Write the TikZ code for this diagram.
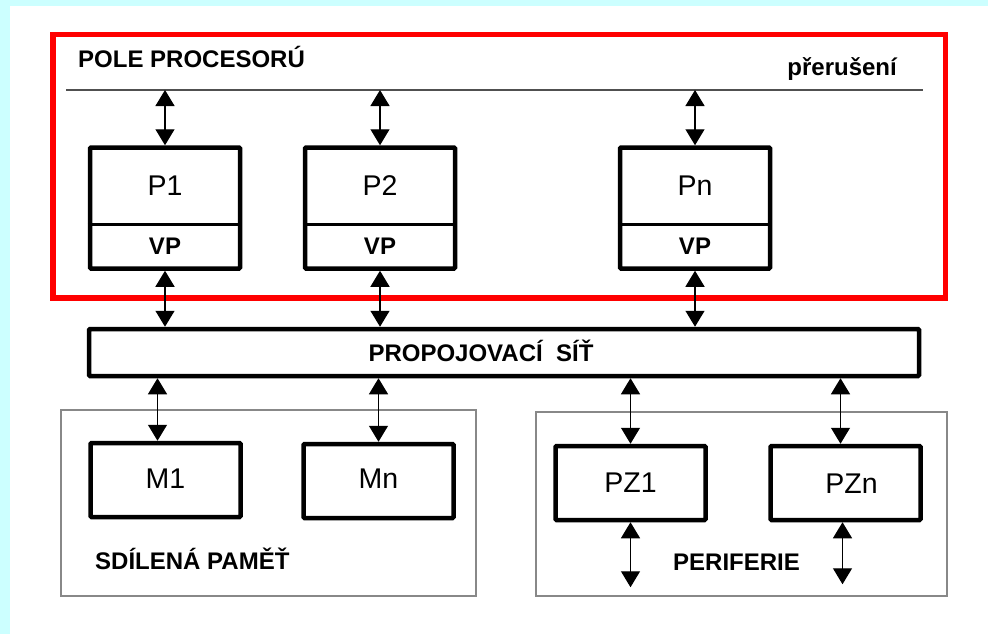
\documentclass[tikz,border=0pt]{standalone}
\usepackage{fontspec}
\setmainfont{Liberation Sans}
\usepackage{tikz}
\usetikzlibrary{positioning,arrows.meta}
\tikzset{>={Triangle[width=19pt,length=16pt]}}
\definecolor{bgcyan}{RGB}{204,255,255}
\definecolor{grpgray}{RGB}{136,136,136}
\definecolor{busgray}{RGB}{80,80,80}
\tikzset{
  unit/.style={draw, line width=4.5pt, minimum width=150pt, rounded corners=1pt, inner sep=0pt},
  procbox/.style={unit, minimum height=121pt},
  devbox/.style={unit, minimum height=74pt},
  namelbl/.style={font=\fontsize{28.5}{31}\selectfont, inner sep=0pt, anchor=base},
  boldlbl/.style={font=\fontsize{24}{28}\selectfont\bfseries, inner sep=0pt},
  group/.style={draw=grpgray, line width=2.5pt},
  link/.style={<->, line width=1.3pt},
}

\begin{document}
\begin{tikzpicture}[x=1pt, y=-1pt]
    % page and frames
    \fill[bgcyan] (0,0) rectangle (988,634);
    \fill[white] (10,6) rectangle (988,634);
    \draw[red, line width=5.5pt] (53,34.5) rectangle (945.5,298);
    \draw[group] (61,410) rectangle (476,596);
    \draw[group] (536,412) rectangle (947,596);
    \node[boldlbl, anchor=base west] (pole) at (78,68) {POLE PROCESORÚ};
    \node[boldlbl, anchor=base east] (irq) at (897,75) {přerušení};
    \node[boldlbl, anchor=base west] (shmem) at (95,569) {SDÍLENÁ PAMĚŤ};
    \node[boldlbl, anchor=base west] (periph) at (673,570) {PERIFERIE};
    % interrupt line
    \coordinate (busL) at (66,90);
    \coordinate (busR) at (923,90);
    \draw[busgray, line width=1.5pt] (busL) -- (busR);
    % set up the processors
    \node[procbox] (P1) at (165,208) {};
    \node[procbox] (P2) at (380,208) {};
    \node[procbox] (Pn) at (695,208) {};
    \node[namelbl] (P1name) at ([yshift=-50.5pt]P1.north) {P1};
    \node[namelbl] (P2name) at ([yshift=-50.5pt]P2.north) {P2};
    \node[namelbl] (Pnname) at ([yshift=-50.5pt]Pn.north) {Pn};
    \draw[line width=2.5pt] ([yshift=46.5pt]P1.south west) -- ([yshift=46.5pt]P1.south east);
    \draw[line width=2.5pt] ([yshift=46.5pt]P2.south west) -- ([yshift=46.5pt]P2.south east);
    \draw[line width=2.5pt] ([yshift=46.5pt]Pn.south west) -- ([yshift=46.5pt]Pn.south east);
    \node[boldlbl, anchor=base] (P1vp) at ([yshift=16.5pt]P1.south) {VP};
    \node[boldlbl, anchor=base] (P2vp) at ([yshift=16.5pt]P2.south) {VP};
    \node[boldlbl, anchor=base] (Pnvp) at ([yshift=16.5pt]Pn.south) {VP};
    % interconnection network
    \node[unit, minimum width=830pt, minimum height=47pt] (net) at (504,352.5) {};
    \node[boldlbl, anchor=base] (netname) at (481,361) {PROPOJOVACÍ\ \ SÍŤ};
    % memories and peripherals
    \node[devbox] (M1) at (165.5,480) {};
    \node[devbox] (Mn) at (378.5,481) {};
    \node[devbox] (PZ1) at (630.5,483) {};
    \node[devbox] (PZn) at (845.5,483) {};
    \node[namelbl] (M1name) at ([yshift=-8pt]M1.center) {M1};
    \node[namelbl] (Mnname) at ([yshift=-7pt]Mn.center) {Mn};
    \node[namelbl] (PZ1name) at ([yshift=-9pt]PZ1.center) {PZ1};
    \node[namelbl] (PZnname) at ([xshift=6pt,yshift=-10pt]PZn.center) {PZn};
    \coordinate[below=65pt of PZ1.south] (io1);
    \coordinate[below=62pt of PZn.south] (ion);
    % draw arrows between them
    \draw[link] (P1.north) -- (P1.north |- busL);
    \draw[link] (P2.north) -- (P2.north |- busL);
    \draw[link] (Pn.north) -- (Pn.north |- busL);
    \draw[link] (P1.south) -- (P1.south |- net.north);
    \draw[link] (P2.south) -- (P2.south |- net.north);
    \draw[link] (Pn.south) -- (Pn.south |- net.north);
    \draw[link] ([xshift=-8pt]M1.north) -- ([xshift=-8pt]M1.north |- net.south);
    \draw[link] (Mn.north) -- (Mn.north |- net.south);
    \draw[link] (PZ1.north) -- (PZ1.north |- net.south);
    \draw[link] ([xshift=-5pt]PZn.north) -- ([xshift=-5pt]PZn.north |- net.south);
    \draw[link] (PZ1.south) -- (io1);
    \draw[link] ([xshift=-3pt]PZn.south) -- ([xshift=-3pt]ion);
\end{tikzpicture}
\end{document}
